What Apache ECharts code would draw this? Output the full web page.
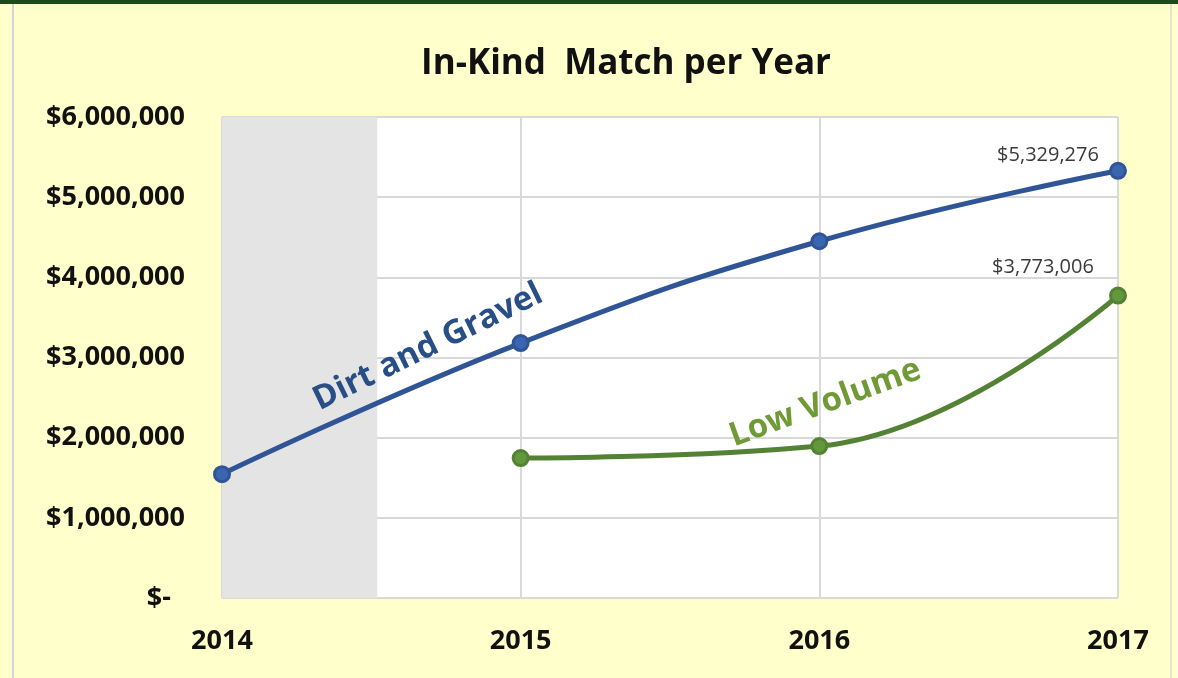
<!DOCTYPE html>
<html>
<head>
<meta charset="utf-8">
<script src="https://cdn.jsdelivr.net/npm/echarts@6/dist/echarts.min.js"></script>
<style>
  html, body { margin: 0; padding: 0; background: #ffffcc; }
  #frame { position: absolute; left: 0; top: 0; width: 1178px; height: 678px; box-sizing: border-box;
    border-top: 4px solid #1b4a1b; }
  #edge { position: absolute; left: 12px; top: 4px; width: 2px; height: 674px; background: #d4d4d4; }
  #edge2 { position: absolute; left: 1170px; top: 4px; width: 2px; height: 674px; background: #e4e4d0; }
  #chart { position: absolute; left: 0; top: 0; width: 1178px; height: 678px; }
</style>
</head>
<body>
<div id="frame"></div>
<div id="edge"></div>
<div id="edge2"></div>
<div id="chart"></div>
<script>
const years = [2014, 2015, 2016, 2017]
const dirtGravel = [1545000, 3180000, 4450000, 5329276]
const lowVolume = [null, 1745000, 1895000, 3773006]
const yTicks = [0, 1000000, 2000000, 3000000, 4000000, 5000000, 6000000]

const chart = echarts.init(document.getElementById('chart'))

const fmtMoney = v => '$' + Math.round(v).toLocaleString('en-US')

// [year, value] pairs, only the last point gets a value label
const pairs = arr => years.map((y, i) => [y, arr[i]]).filter(p => p[1] != null)
const withEndLabel = arr => pairs(arr).map((p, i, a) => ({ value: p, label: { show: i === a.length - 1 } }))

const option = {
	backgroundColor: 'transparent',
	title: {
		text: 'In-Kind  Match per Year',
		left: 621,
		textAlign: 'center',
		top: 42,
		textStyle: { fontFamily: 'Open Sans', fontWeight: 'bold', fontSize: 35, color: '#111' },
	},
	grid: {
		left: 222, right: 60, top: 117, bottom: 80,
		show: true, backgroundColor: '#ffffff', borderColor: '#c8c8c8', borderWidth: 1,
	},
	xAxis: {
		type: 'value',
		min: 2014, max: 2017, interval: 1,
		axisLine: { show: false },
		axisTick: { show: false },
		splitLine: { show: true, lineStyle: { color: '#d9d9d9', width: 2 } },
		axisLabel: {
			formatter: v => String(v),
			margin: 30,
			fontFamily: 'Open Sans',
			fontWeight: 'bold', fontSize: 27, color: '#111',
		},
	},
	yAxis: {
		type: 'value',
		min: 0, max: 6000000, interval: 1000000,
		axisLine: { show: false },
		axisTick: { show: false },
		splitLine: { lineStyle: { color: '#d9d9d9', width: 2 } },
		axisLabel: {
			margin: 37,
			fontFamily: 'Open Sans', fontWeight: 'bold', fontSize: 27, color: '#111',
			formatter: v => (yTicks.includes(v) ? (v === 0 ? '$-  ' : fmtMoney(v)) : ''),
		},
	},
	series: [
		{
			name: 'Dirt and Gravel',
			type: 'line',
			smooth: 0.45,
			data: withEndLabel(dirtGravel),
			symbol: 'circle',
			symbolSize: 15,
			lineStyle: { color: '#2f5597', width: 5 },
			itemStyle: { color: '#3a65b0', borderColor: '#2f5597', borderWidth: 3 },
			label: {
				position: 'top', offset: [-70, 9], color: '#3a3a3a',
				fontFamily: 'Open Sans', fontSize: 20,
				formatter: p => fmtMoney(p.value[1]),
			},
			markArea: {
				silent: true,
				itemStyle: { color: '#e4e4e4' },
				data: [[{ xAxis: 2014, yAxis: 0 }, { xAxis: 2014.52, yAxis: 6000000 }]],
			},
			markPoint: {
				symbol: 'circle', symbolSize: 0,
				data: [{ coord: [2014.69, 3130000] }],
				label: {
					show: true, position: 'inside', formatter: 'Dirt and Gravel',
					rotate: 26, color: '#284e86', fontFamily: 'Open Sans',
					fontWeight: 'bold', fontSize: 33,
				},
			},
			z: 3,
		},
		{
			name: 'Low Volume',
			type: 'line',
			smooth: 0.45,
			data: withEndLabel(lowVolume),
			symbol: 'circle',
			symbolSize: 15,
			lineStyle: { color: '#548235', width: 5 },
			itemStyle: { color: '#62973a', borderColor: '#548235', borderWidth: 3 },
			label: {
				position: 'top', offset: [-75, -4], color: '#3a3a3a',
				fontFamily: 'Open Sans', fontSize: 20,
				formatter: p => fmtMoney(p.value[1]),
			},
			markPoint: {
				symbol: 'circle', symbolSize: 0,
				data: [{ coord: [2016.02, 2430000] }],
				label: {
					show: true, position: 'inside', formatter: 'Low Volume',
					rotate: 20, color: '#6f9a36', fontFamily: 'Open Sans',
					fontWeight: 'bold', fontSize: 33,
				},
			},
			z: 3,
		},
	],
}

chart.setOption(option)
</script>
</body>
</html>
